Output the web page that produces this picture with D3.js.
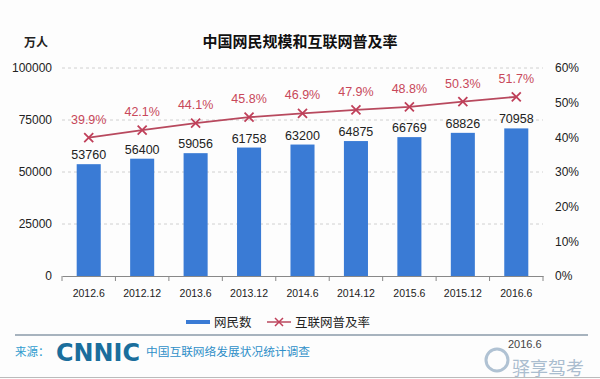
<!DOCTYPE html>
<html><head><meta charset="utf-8">
<script src="https://cdn.jsdelivr.net/npm/d3@7"></script>
<style>body{margin:0;background:#fff}svg{display:block}</style>
</head><body>
<svg id="c" width="600" height="379"></svg>
<script>
const categories = ["2012.6","2012.12","2013.6","2013.12","2014.6","2014.12","2015.6","2015.12","2016.6"];
const users = [53760,56400,59056,61758,63200,64875,66769,68826,70958];
const rates = [39.9,42.1,44.1,45.8,46.9,47.9,48.8,50.3,51.7];
const leftTicks = [0,25000,50000,75000,100000];
const rightTicks = [0,10,20,30,40,50,60];

const svg = d3.select("#c");
const font = "'Liberation Sans', Arial, 'Noto Sans CJK SC', sans-serif";
const cjk = "'Noto Sans CJK SC', sans-serif";
svg.append("rect").attr("width",600).attr("height",379).attr("fill","#fdfdfd");

const x = d3.scaleBand().domain(categories).range([62,543]).paddingInner(0.55).paddingOuter(0.275);
const y = d3.scaleLinear().domain([0,100000]).range([276,68]);
const y2 = d3.scaleLinear().domain([0,60]).range([276,68]);

// gridlines
svg.append("g").selectAll("line").data(leftTicks.slice(1)).join("line")
  .attr("x1",62).attr("x2",543).attr("y1",d=>y(d)).attr("y2",d=>y(d))
  .attr("stroke","#d0d0d0").attr("stroke-dasharray","3,3");

// left axis
const gl = svg.append("g").attr("transform","translate(62,0)")
  .call(d3.axisLeft(y).tickValues(leftTicks).tickFormat(d3.format("d")).tickSize(0).tickPadding(10));
gl.select(".domain").remove();
gl.selectAll("text").attr("font-family",font).attr("font-size",12).attr("fill","#222");

// right axis
const gr = svg.append("g").attr("transform","translate(543,0)")
  .call(d3.axisRight(y2).tickValues(rightTicks).tickFormat(d=>d+"%").tickSize(0).tickPadding(12));
gr.select(".domain").remove();
gr.selectAll("text").attr("font-family",font).attr("font-size",12).attr("fill","#222");

// bars
svg.append("g").selectAll("rect").data(users).join("rect")
  .attr("x",(d,i)=>x(categories[i])).attr("width",x.bandwidth())
  .attr("y",d=>y(d)).attr("height",d=>276-y(d)).attr("fill","#3a7bd5");

// bottom axis
const gb = svg.append("g").attr("transform","translate(0,276)")
  .call(d3.axisBottom(x).tickSize(0).tickPadding(14));
gb.select(".domain").attr("stroke","#888");
gb.selectAll("text").attr("font-family",font).attr("font-size",10.5).attr("fill","#222");
svg.append("g").selectAll("line").data(d3.range(categories.length+1)).join("line")
  .attr("x1",i=>62+i*x.step()).attr("x2",i=>62+i*x.step())
  .attr("y1",276).attr("y2",281).attr("stroke","#888");

// bar labels
svg.append("g").selectAll("text").data(users).join("text")
  .attr("x",(d,i)=>x(categories[i])+x.bandwidth()/2).attr("y",d=>y(d)-5)
  .attr("text-anchor","middle").attr("font-family",font).attr("font-size",12.5).attr("fill","#222")
  .text(d=>d);

// line
const cx = i => x(categories[i])+x.bandwidth()/2;
svg.append("path").datum(rates)
  .attr("d", d3.line().x((d,i)=>cx(i)).y(d=>y2(d)))
  .attr("fill","none").attr("stroke","#b8495e").attr("stroke-width",1.8);
const mk = svg.append("g").selectAll("g").data(rates).join("g")
  .attr("transform",(d,i)=>`translate(${cx(i)},${y2(d)})`);
mk.append("path").attr("d","M-4.5,-4.5L4.5,4.5M-4.5,4.5L4.5,-4.5").attr("stroke","#c0405a").attr("stroke-width",1.8);
svg.append("g").selectAll("text").data(rates).join("text")
  .attr("x",(d,i)=>cx(i)).attr("y",d=>y2(d)-14)
  .attr("text-anchor","middle").attr("font-family",font).attr("font-size",12.5).attr("fill","#c8485a")
  .text(d=>d.toFixed(1)+"%");

// titles
svg.append("text").attr("x",300).attr("y",47).attr("text-anchor","middle")
  .attr("font-family",cjk).attr("font-weight","bold").attr("font-size",15).attr("fill","#111")
  .text("中国网民规模和互联网普及率");
svg.append("text").attr("x",36).attr("y",47).attr("text-anchor","middle")
  .attr("font-family",cjk).attr("font-weight","bold").attr("font-size",12).attr("fill","#222")
  .text("万人");

// legend
svg.append("line").attr("x1",186).attr("x2",210).attr("y1",322).attr("y2",322).attr("stroke","#3a7bd5").attr("stroke-width",4);
svg.append("text").attr("x",214).attr("y",327).attr("font-family",cjk).attr("font-size",12.5).attr("fill","#222").text("网民数");
svg.append("line").attr("x1",267).attr("x2",291).attr("y1",322).attr("y2",322).attr("stroke","#b8495e").attr("stroke-width",1.5);
svg.append("path").attr("d","M275,318L283,326M275,326L283,318").attr("stroke","#c0405a").attr("stroke-width",1.5);
svg.append("text").attr("x",295).attr("y",327).attr("font-family",cjk).attr("font-size",12.5).attr("fill","#222").text("互联网普及率");

// footer
svg.append("line").attr("x1",15).attr("x2",588).attr("y1",335).attr("y2",335).attr("stroke","#8a9aa8").attr("stroke-width",1.5);
svg.append("text").attr("x",15).attr("y",356).attr("font-family",cjk).attr("font-size",11.5).attr("fill","#2f9ccf").text("来源：");
svg.append("text").attr("x",56).attr("y",361).attr("font-family","'DejaVu Sans', sans-serif").attr("font-weight","bold")
  .attr("font-size",25).attr("fill","#1a6e9c").attr("textLength",84).attr("lengthAdjust","spacingAndGlyphs").text("CNNIC");
svg.append("text").attr("x",146).attr("y",356).attr("font-family",cjk).attr("font-size",11.5).attr("fill","#2f8fc8")
  .attr("textLength",164).attr("lengthAdjust","spacingAndGlyphs").text("中国互联网络发展状况统计调查");
svg.append("text").attr("x",508).attr("y",348).attr("font-family",font).attr("font-size",11).attr("fill","#444").text("2016.6");
svg.append("text").attr("x",512).attr("y",375).attr("font-family",cjk).attr("font-size",18).attr("fill","#8fa8c0").attr("opacity",0.75).text("驿享驾考");
svg.append("circle").attr("cx",497).attr("cy",360).attr("r",11).attr("fill","none").attr("stroke","#8fa8c0").attr("stroke-width",3).attr("opacity",0.7);
svg.append("line").attr("x1",0).attr("x2",600).attr("y1",377.5).attr("y2",377.5).attr("stroke","#bbb");
</script>
</body></html>
